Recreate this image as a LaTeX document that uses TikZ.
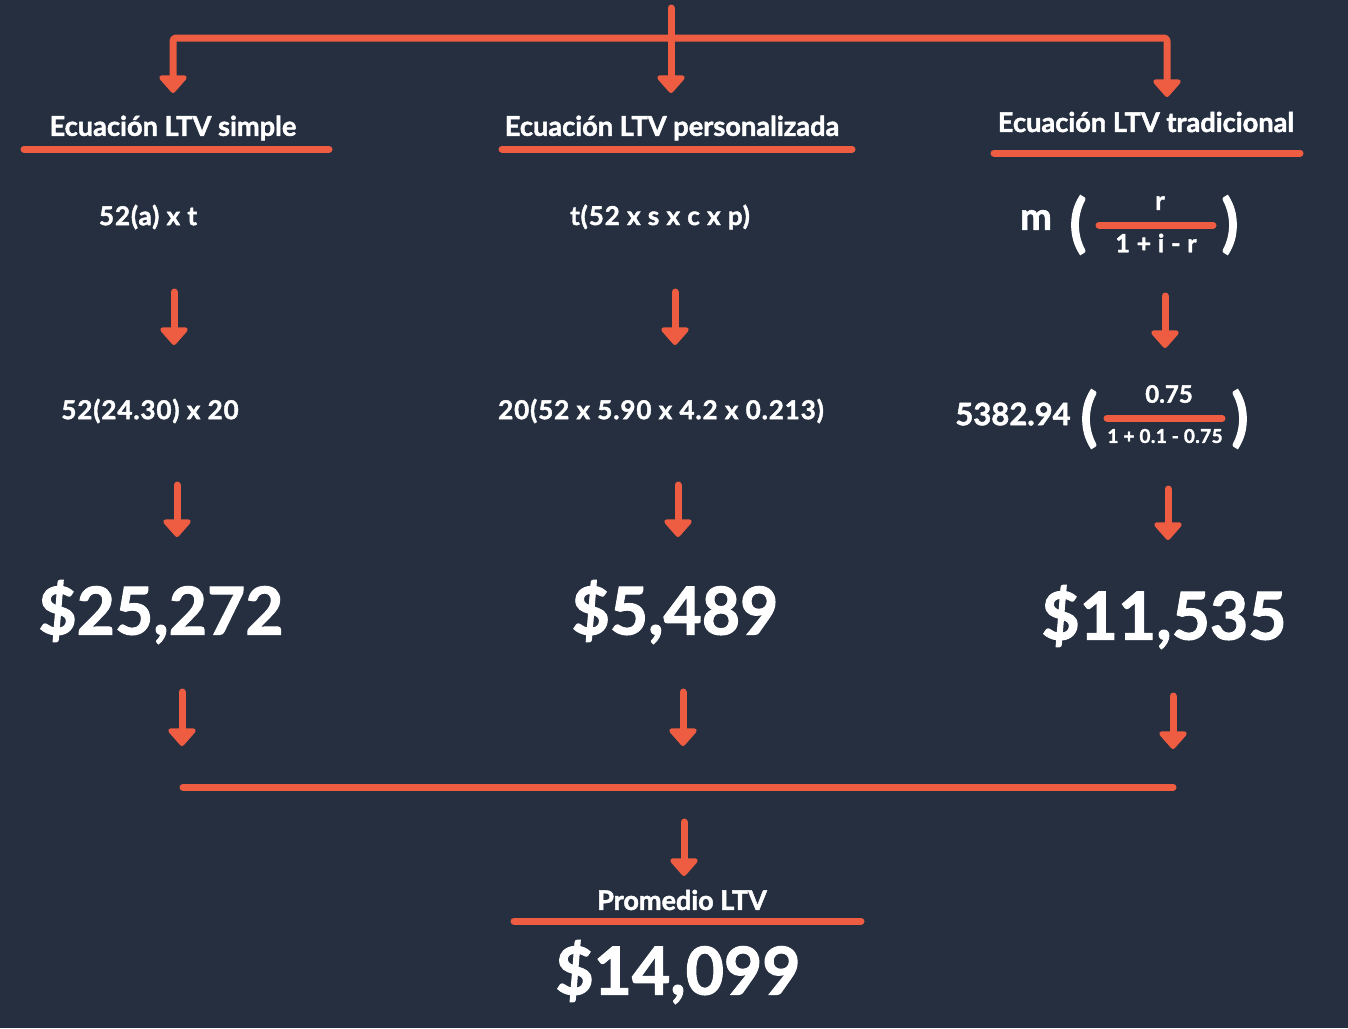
\documentclass[tikz,border=0pt]{standalone}
\usepackage{fontspec}
\setmainfont{Lato}[BoldFeatures={FakeBold=1.6}]
\usetikzlibrary{arrows.meta}
\definecolor{bg}{HTML}{252F40}
\definecolor{acc}{HTML}{EE5C42}
\begin{document}
\begin{tikzpicture}[x=1pt,y=-1pt,
  conn/.style={draw=acc, line width=7pt, line cap=round, line join=round, rounded corners=3pt,
    -{Triangle[width=32pt,length=19pt,round]}},
  rule/.style={draw=acc, line width=7pt, line cap=round},
  wtxt/.style={text=white, inner sep=0pt},
  head/.style={wtxt, font=\bfseries\fontsize{27.2}{27.2}\selectfont},
  form/.style={wtxt, font=\bfseries\fontsize{26}{26}\selectfont\addfontfeature{LetterSpace=3.5}},
  small/.style={wtxt, font=\bfseries\fontsize{19}{19}\selectfont\addfontfeature{LetterSpace=2}},
  big/.style={wtxt, font=\bfseries\fontsize{66}{66}\selectfont},
  paren/.style={wtxt, font=\bfseries\fontsize{63}{63}\selectfont}]
\fill[bg] (0,0) rectangle (1348,1028);
\useasboundingbox (0,0) rectangle (1348,1028);

% top distribution
\coordinate (src) at (671,8);
\coordinate (jn) at (671,38);
\coordinate (tA) at (173,93);
\coordinate (tB) at (671,93);
\coordinate (tC) at (1167,97);
\draw[conn] (src) -- (tB);
\draw[conn] (jn) -| (tA);
\draw[conn] (jn) -| (tC);

% headers
\node[head] (hA) at (173,128) {Ecuación LTV simple};
\node[head] (hB) at (672,128) {Ecuación LTV personalizada};
\node[head] (hC) at (1146,122) {Ecuación LTV tradicional};
\draw[rule] (24,149) -- (329,149);
\draw[rule] (502,149) -- (852,149);
\draw[rule] (994,153) -- (1300,153);

% formulas
\node[form] (fA) at (148,217) {52(a) x t};
\node[form] (fB) at (660,217) {t(52 x s x c x p)};
\node[wtxt, font=\bfseries\fontsize{38}{38}\selectfont] (fCm) at (1036,220) {m};
\node[paren] (fCl) at (1078,225) {(};
\node[paren] (fCr) at (1230,225) {)};
\node[form] (fCn) at (1160,203) {r};
\node[wtxt, font=\bfseries\fontsize{25}{25}\selectfont\addfontfeature{LetterSpace=3}] (fCd) at (1156,243) {1 + i - r};
\draw[rule] (1099,225) -- (1213,225);

% arrows row 2
\coordinate (a1s) at (174,292); \coordinate (a1e) at (174,345);
\coordinate (a2s) at (675,292); \coordinate (a2e) at (675,345);
\coordinate (a3s) at (1165,296); \coordinate (a3e) at (1165,348);
\draw[conn] (a1s) -- (a1e);
\draw[conn] (a2s) -- (a2e);
\draw[conn] (a3s) -- (a3e);

% substituted formulas
\node[form] (gA) at (150,411) {52(24.30) x 20};
\node[form] (gB) at (661,411) {20(52 x 5.90 x 4.2 x 0.213)};
\node[wtxt, font=\bfseries\fontsize{31}{31}\selectfont] (gCm) at (1013,414) {5382.94};
\node[paren] (gCl) at (1089,419) {(};
\node[paren] (gCr) at (1240,419) {)};
\node[wtxt, font=\bfseries\fontsize{24}{24}\selectfont] (gCn) at (1169,394) {0.75};
\node[small] (gCd) at (1165,436) {1 + 0.1 - 0.75};
\draw[rule] (1107,418) -- (1222,418);

% arrows row 3
\coordinate (b1s) at (177,485); \coordinate (b1e) at (177,537);
\coordinate (b2s) at (678,485); \coordinate (b2e) at (678,537);
\coordinate (b3s) at (1168,489); \coordinate (b3e) at (1168,540);
\draw[conn] (b1s) -- (b1e);
\draw[conn] (b2s) -- (b2e);
\draw[conn] (b3s) -- (b3e);

% results
\node[big] (rA) at (161,612) {\$25,272};
\node[big] (rB) at (675,612) {\$5,489};
\node[big] (rC) at (1164,617) {\$11,535};

% arrows row 4
\coordinate (c1s) at (182,692); \coordinate (c1e) at (182,746);
\coordinate (c2s) at (683,692); \coordinate (c2e) at (683,746);
\coordinate (c3s) at (1173,696); \coordinate (c3e) at (1173,749);
\draw[conn] (c1s) -- (c1e);
\draw[conn] (c2s) -- (c2e);
\draw[conn] (c3s) -- (c3e);

% collector
\coordinate (kL) at (183,787); \coordinate (kR) at (1173,787);
\draw[rule] (kL) -- (kR);
\coordinate (ds) at (684,822); \coordinate (de) at (684,876);
\draw[conn] (ds) -- (de);

% average
\node[wtxt, font=\bfseries\fontsize{27}{27}\selectfont] (hP) at (682,900) {Promedio LTV};
\draw[rule] (514,921) -- (861,921);
\node[big] (rP) at (678,972) {\$14,099};
\end{tikzpicture}
\end{document}
